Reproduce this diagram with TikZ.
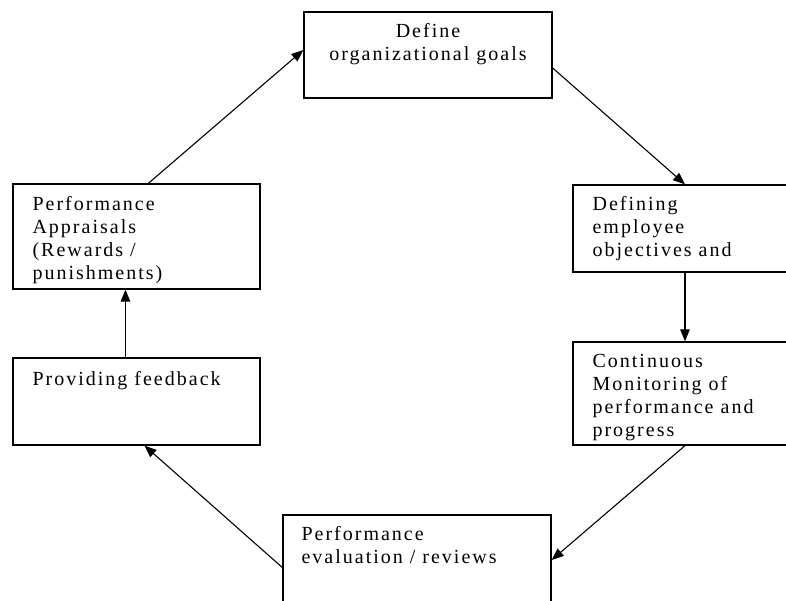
\documentclass[tikz,border=0pt]{standalone}
\usepackage{fontspec}
\setmainfont{Liberation Serif}[LetterSpace=10]
\usetikzlibrary{positioning,arrows.meta}
\tikzset{
  stagebox/.style={draw, line width=1.3pt, inner sep=0pt},
  stagetext/.style={inner sep=0pt, align=left, font=\fontsize{20}{23}\selectfont},
  cyclearrow/.style={-{Triangle[length=12pt,width=9.5pt]}, line width=1.1pt}
}

\begin{document}
\begin{tikzpicture}[x=1pt, y=-1pt]
  \useasboundingbox (0,0) rectangle (786,601);
  \clip (0,0) rectangle (786,601);
  % the six stages of the cycle
  \node[stagebox, minimum width=248pt, minimum height=86pt] (goals) at (428,55) {};
  \node[stagebox, minimum width=224pt, minimum height=87pt] (objectives) at (685,228.5) {};
  \node[stagebox, minimum width=224pt, minimum height=103pt] (monitor) at (685,393.5) {};
  \node[stagebox, minimum width=268pt, minimum height=105pt] (evaluation) at (417,567.5) {};
  \node[stagebox, minimum width=247pt, minimum height=87pt] (feedback) at (136.5,401.5) {};
  \node[stagebox, minimum width=247pt, minimum height=105pt] (apprais) at (136.5,236.5) {};
  % texts
  \node[stagetext, align=center, below=10pt of goals.north] (goalslabel) {\strut Define\\organizational goals};
  \node[stagetext, below right=10pt and 20pt of objectives.north west] (objectiveslabel) {\strut Defining\\employee\\objectives and};
  \node[stagetext, below right=10pt and 20pt of monitor.north west] (monitorlabel) {\strut Continuous\\Monitoring of\\performance and\\progress};
  \node[stagetext, below right=10pt and 19pt of evaluation.north west] (evaluationlabel) {\strut Performance\\evaluation / reviews};
  \node[stagetext, below right=12pt and 20pt of feedback.north west] (feedbacklabel) {\strut Providing feedback};
  \node[stagetext, below right=11pt and 20pt of apprais.north west] (appraislabel) {\strut Performance\\Appraisals\\(Rewards /\\punishments)};
  % arrows round the cycle
  \draw[cyclearrow] ([xshift=136pt]apprais.north west) -- ([yshift=5pt]goals.west);
  \draw[cyclearrow] ([yshift=-13pt]goals.east) -- (objectives.north);
  \draw[cyclearrow] (objectives.south) -- (monitor.north);
  \draw[cyclearrow] (monitor.south) -- ([yshift=7.5pt]evaluation.east);
  \draw[cyclearrow] (evaluation.west) -- ([xshift=8pt]feedback.south);
  \draw[cyclearrow] ([xshift=-11pt]feedback.north) -- ([xshift=-11pt]apprais.south);
\end{tikzpicture}
\end{document}
